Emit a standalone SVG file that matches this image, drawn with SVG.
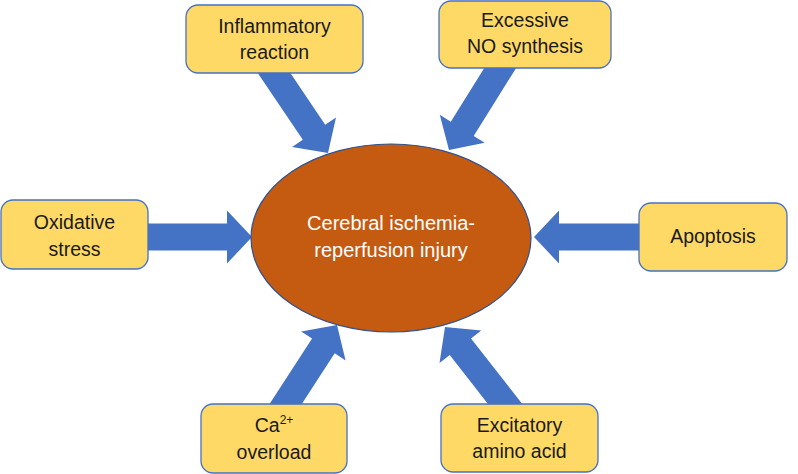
<svg xmlns="http://www.w3.org/2000/svg" width="798" height="474" viewBox="0 0 798 474">
<style>
.box{fill:#FFD966;stroke:#4472C4;stroke-width:1.3}
.arr{fill:#4472C4}
.t{font-family:"Liberation Sans",Arial,sans-serif;font-size:19.5px;fill:#1a1a1a;text-anchor:middle}
.c{font-family:"Liberation Sans",Arial,sans-serif;font-size:20px;fill:#ffffff;text-anchor:middle}
</style>
<defs>
<polygon id="ba" points="-115,-13.5 -25,-13.5 -25,-26.5 0,0 -25,26.5 -25,13.5 -115,13.5"/>
</defs>
<g id="connectors">
<use href="#ba" class="arr" transform="translate(252,237)"/>
<use href="#ba" class="arr" transform="translate(534,237) rotate(180)"/>
<use href="#ba" class="arr" transform="translate(328,153) rotate(56)"/>
<use href="#ba" class="arr" transform="translate(449,150) rotate(122)"/>
<use href="#ba" class="arr" transform="translate(337,325) rotate(-57)"/>
<use href="#ba" class="arr" transform="translate(445,327) rotate(-128)"/>
</g>
<g id="center">
<ellipse cx="391" cy="238" rx="140" ry="94" fill="#C55A11" stroke="#2F528F" stroke-width="1.2"/>
<text class="c" x="391" y="230">Cerebral ischemia-</text>
<text class="c" x="391" y="257">reperfusion injury</text>
</g>
<g id="inflammatory">
<rect class="box" x="186" y="5" width="177" height="68" rx="12"/>
<text class="t" x="274.5" y="33">Inflammatory</text>
<text class="t" x="274.5" y="59">reaction</text>
</g>
<g id="no">
<rect class="box" x="439" y="1" width="172" height="67" rx="12"/>
<text class="t" x="525" y="27">Excessive</text>
<text class="t" x="525" y="53">NO synthesis</text>
</g>
<g id="oxidative">
<rect class="box" x="1" y="200" width="147" height="69" rx="12"/>
<text class="t" x="74.5" y="229">Oxidative</text>
<text class="t" x="74.5" y="256">stress</text>
</g>
<g id="apoptosis">
<rect class="box" x="639" y="203" width="148" height="68" rx="12"/>
<text class="t" x="713" y="243">Apoptosis</text>
</g>
<g id="calcium">
<rect class="box" x="201" y="404" width="146" height="69" rx="12"/>
<text class="t" x="274" y="432">Ca<tspan font-size="12" dy="-8">2+</tspan></text>
<text class="t" x="274" y="459">overload</text>
</g>
<g id="excitatory">
<rect class="box" x="441" y="404" width="157" height="68" rx="12"/>
<text class="t" x="519.5" y="432">Excitatory</text>
<text class="t" x="519.5" y="458">amino acid</text>
</g>
</svg>
